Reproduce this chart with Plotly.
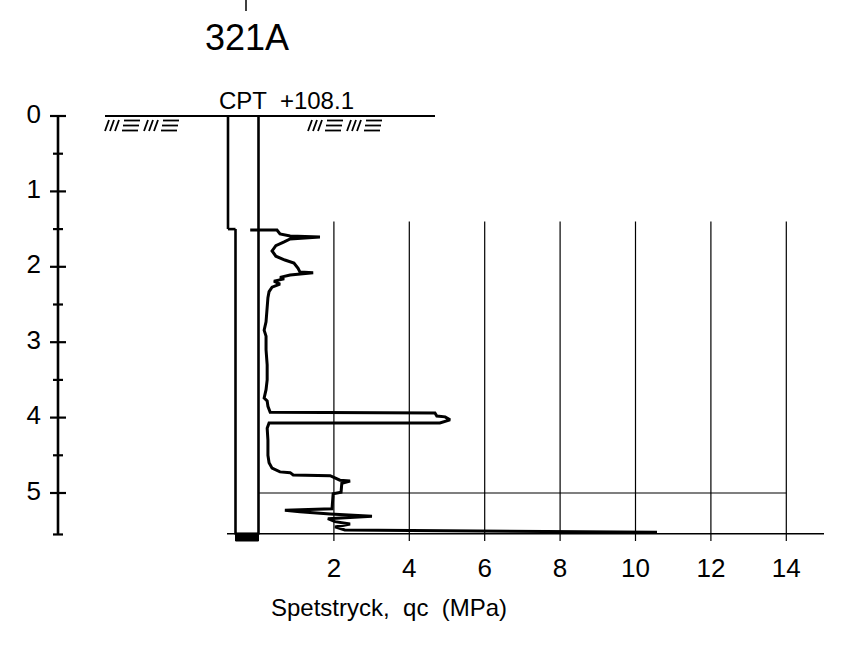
import plotly.graph_objects as go

# ---- data ----
title_text = "321A"
cpt_label = "CPT  +108.1"
x_title = "Spetstryck,  qc  (MPa)"
depth_ticks = [0, 1, 2, 3, 4, 5]
depth_minor = [0.5, 1.5, 2.5, 3.5, 4.5, 5.55]
qc_ticks = [2, 4, 6, 8, 10, 12, 14]
depth_end = 5.55
grid_top = 1.4
grid_ref_depth = 5.0

depth = [1.512, 1.512, 1.565, 1.59, 1.605, 1.63, 1.67, 1.72, 1.79, 1.86, 1.91, 1.95,
         2.02, 2.07, 2.08, 2.11, 2.14, 2.16, 2.19, 2.23, 2.27, 2.33, 2.41, 2.57, 2.73,
         2.84, 2.92, 3.10, 3.30, 3.50, 3.63, 3.74, 3.78, 3.85, 3.93, 3.94, 3.98, 3.99,
         4.03, 4.07, 4.07, 4.14, 4.30, 4.50, 4.60, 4.67, 4.72, 4.73, 4.76, 4.77, 4.80,
         4.83, 4.84, 4.87, 4.99, 5.01, 5.21, 5.23, 5.25, 5.28, 5.31, 5.34, 5.38, 5.41,
         5.45, 5.49, 5.52]
qc = [-0.22, 0.49, 0.57, 0.84, 1.63, 0.84, 0.68, 0.46, 0.36, 0.46, 0.70, 0.94,
      1.05, 1.10, 1.45, 0.84, 0.57, 0.68, 0.41, 0.57, 0.36, 0.28, 0.25, 0.23, 0.20,
      0.15, 0.20, 0.20, 0.23, 0.23, 0.20, 0.15, 0.23, 0.25, 0.31, 4.68, 4.73, 4.95,
      5.08, 4.81, 0.28, 0.23, 0.25, 0.25, 0.28, 0.36, 0.57, 0.84, 0.92, 1.90, 2.03,
      2.16, 2.43, 2.21, 2.19, 1.98, 1.95, 0.70, 1.10, 1.90, 3.01, 1.84, 2.03, 2.43,
      2.03, 2.29, 10.57]

# ---- pixel <-> data mapping helpers (layout only) ----
W, H = 860, 653
X0, SX = 258.5, 37.7   # px of qc=0, px per MPa
Y0, SY = 116.0, 75.4   # px of depth=0, px per m


def dx(px):
    return (px - X0) / SX


def dy(py):
    return (py - Y0) / SY


FONT = "Liberation Sans, Arial, sans-serif"
K = "black"

fig = go.Figure()
shapes = []


def line(x0, y0, x1, y1, w=1.0):
    shapes.append(dict(type="line", x0=x0, y0=y0, x1=x1, y1=y1,
                       line=dict(color=K, width=w), layer="above"))


# grid verticals
for t in qc_ticks:
    line(t, grid_top, t, dy(541), 1.2)
# horizontal reference line at 5 m
line(0, grid_ref_depth, 14, grid_ref_depth, 1.2)
# bottom line
line(dx(227), depth_end - 0.01, 15.0, depth_end - 0.01, 1.6)
# ground line
line(dx(105), 0, dx(435), 0, 2.2)
# pipe
line(dx(228), 0, dx(228), 1.5, 2.6)
line(dx(228), 1.5, dx(235.5), 1.5, 2.6)
line(dx(235.5), 1.5, dx(235.5), depth_end, 2.6)
line(0, 0, 0, depth_end, 2.6)
shapes.append(dict(type="rect", x0=dx(235.5), x1=dx(258.5), y0=depth_end - 0.02, y1=dy(541),
                   fillcolor=K, line=dict(color=K, width=1)))
# depth axis
ax = dx(58)
line(ax, 0, ax, depth_end, 2.6)
for d in depth_ticks:
    line(dx(50), d, dx(66), d, 2.2)
for d in depth_minor:
    line(dx(53), d, dx(63), d, 2.2)
# title marker
line(dx(246), dy(0), dx(246), dy(11), 1.5)


# ground hatch symbols
def hatch(x0):
    for g in (0, 39):
        b = x0 + g
        for i in range(3):
            line(dx(b + i * 5), dy(131), dx(b + i * 5 + 4), dy(120), 1.8)
        for j, yy in enumerate((120.5, 125.5, 130.5)):
            off = (2 - j) * 1.0
            line(dx(b + 17 + off), dy(yy), dx(b + 33 + off), dy(yy), 1.8)


hatch(105)
hatch(308)

# CPT curve
fig.add_trace(go.Scatter(x=qc, y=depth, mode="lines",
                         line=dict(color=K, width=3), hoverinfo="skip"))

# tick labels
fig.add_trace(go.Scatter(x=qc_ticks, y=[dy(570)] * len(qc_ticks), mode="text",
                         text=[str(t) for t in qc_ticks],
                         textfont=dict(family=FONT, size=26, color=K),
                         textposition="middle center", hoverinfo="skip"))
fig.add_trace(go.Scatter(x=[dx(41)] * len(depth_ticks), y=depth_ticks, mode="text",
                         text=[str(d) for d in depth_ticks],
                         textfont=dict(family=FONT, size=26, color=K),
                         textposition="middle left", hoverinfo="skip"))

annotations = [
    dict(x=dx(389), y=dy(607), text=x_title, showarrow=False,
         font=dict(family=FONT, size=24, color=K), xanchor="center", yanchor="middle"),
    dict(x=dx(246.5), y=dy(37), text=title_text, showarrow=False,
         font=dict(family=FONT, size=36, color=K), xanchor="center", yanchor="middle"),
    dict(x=dx(286), y=dy(100), text=cpt_label, showarrow=False,
         font=dict(family=FONT, size=24, color=K), xanchor="center", yanchor="middle"),
]

fig.update_layout(
    width=W, height=H,
    margin=dict(l=0, r=0, t=0, b=0),
    paper_bgcolor="white", plot_bgcolor="white",
    showlegend=False,
    shapes=shapes,
    annotations=annotations,
    xaxis=dict(range=[dx(0), dx(W)], visible=False, fixedrange=True),
    yaxis=dict(range=[dy(H), dy(0)], visible=False, fixedrange=True),
)

fig.write_html("out.html")
